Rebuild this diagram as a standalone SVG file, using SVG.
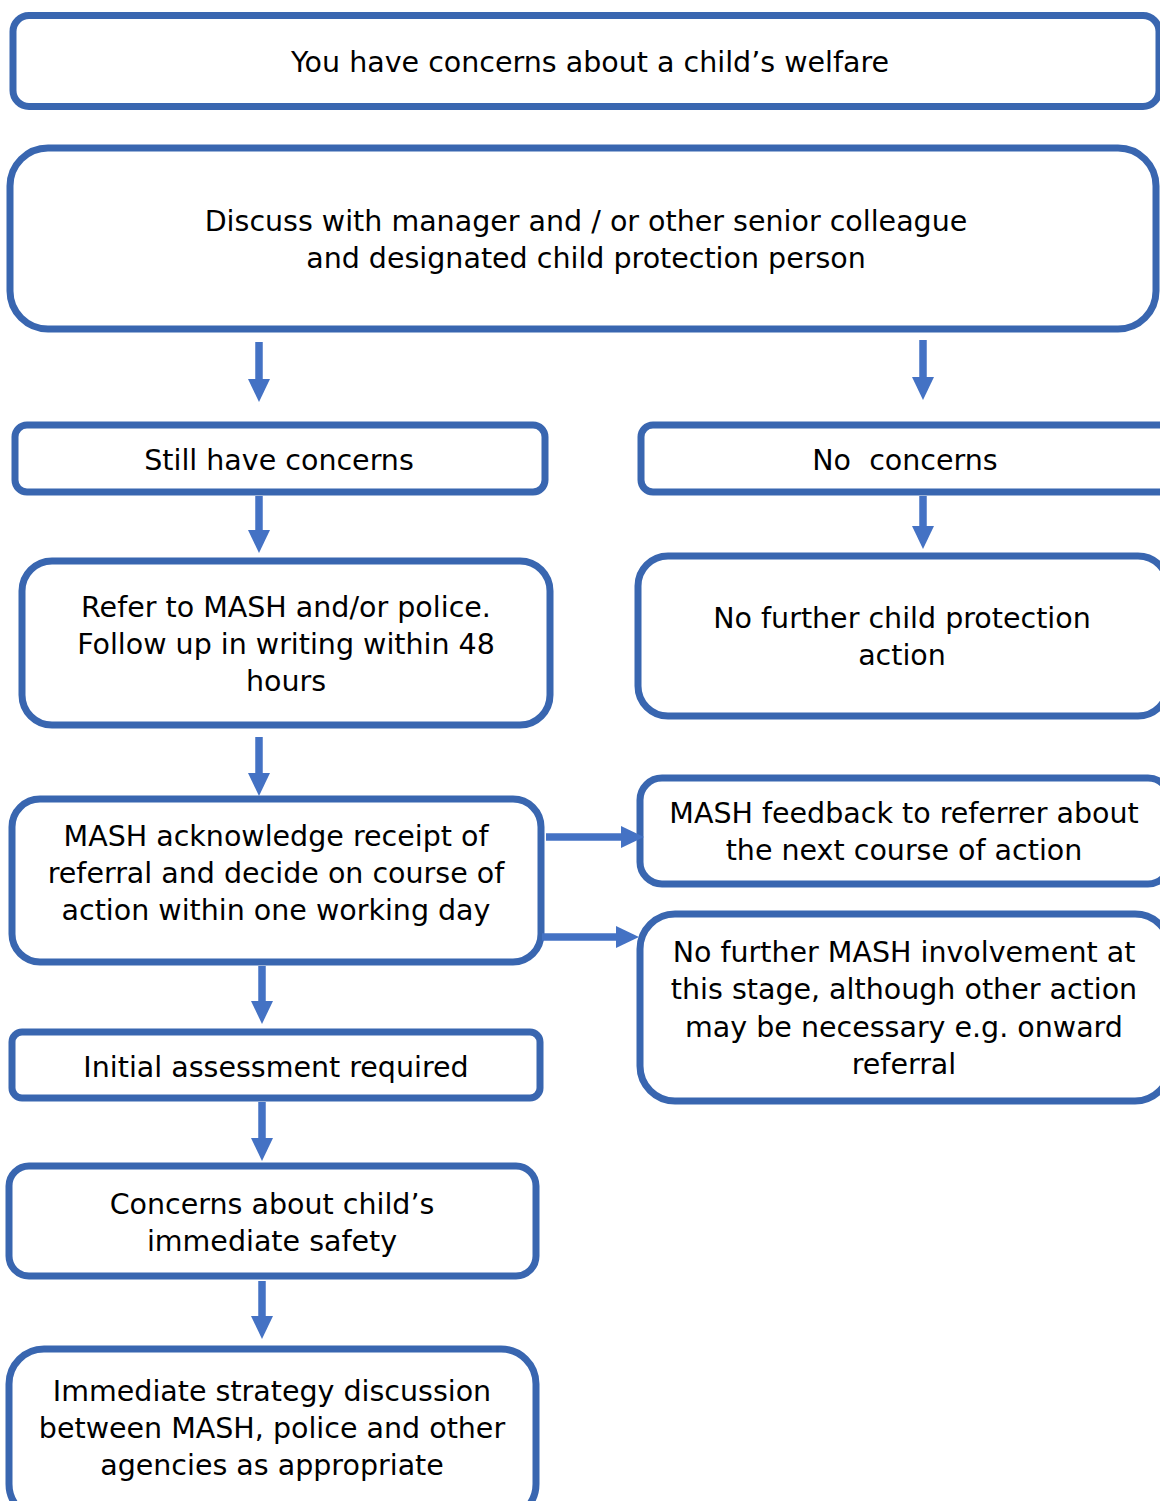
<svg xmlns="http://www.w3.org/2000/svg" width="1160" height="1501" viewBox="0 0 1160 1501">
<style>
.box{fill:#ffffff;stroke:#3966b0;stroke-width:7}
.t{font-family:"DejaVu Sans",sans-serif;font-size:28.5px;fill:#000;text-anchor:middle}
.arr{stroke:#4472c4;stroke-width:7.5;fill:none;marker-end:url(#ah)}
</style>
<defs>
<marker id="ah" viewBox="0 0 23 22" markerWidth="23" markerHeight="22" markerUnits="userSpaceOnUse" refX="11" refY="11" orient="auto">
<path d="M0,0 L23,11 L0,22 z" fill="#4472c4"/>
</marker>
</defs>
<rect width="1160" height="1501" fill="#ffffff"/>
<g id="n1"><rect class="box" x="13" y="15.5" width="1146" height="91" rx="16"/>
<text class="t" x="590" y="72">You have concerns about a child’s welfare</text></g>
<g id="n2"><rect class="box" x="10" y="148" width="1146" height="181" rx="38"/>
<text class="t" x="586" y="231">Discuss with manager and / or other senior colleague</text>
<text class="t" x="586" y="268">and designated child protection person</text></g>
<g id="n3"><rect class="box" x="15" y="425" width="530" height="67" rx="12"/>
<text class="t" x="279" y="470">Still have concerns</text></g>
<g id="n4"><rect class="box" x="641" y="425" width="540" height="67" rx="12"/>
<text class="t" x="905" y="470" xml:space="preserve">No  concerns</text></g>
<g id="n5"><rect class="box" x="22" y="561" width="528" height="164" rx="30"/>
<text class="t" x="286" y="617">Refer to MASH and/or police.</text>
<text class="t" x="286" y="654">Follow up in writing within 48</text>
<text class="t" x="286" y="691">hours</text></g>
<g id="n6"><rect class="box" x="638" y="556" width="530" height="160" rx="30"/>
<text class="t" x="902" y="628">No further child protection</text>
<text class="t" x="902" y="665">action</text></g>
<g id="n7"><rect class="box" x="12" y="799" width="529" height="163" rx="28"/>
<text class="t" x="276" y="846">MASH acknowledge receipt of</text>
<text class="t" x="276" y="883">referral and decide on course of</text>
<text class="t" x="276" y="920">action within one working day</text></g>
<g id="n8"><rect class="box" x="640" y="778" width="530" height="106" rx="22"/>
<text class="t" x="904" y="823">MASH feedback to referrer about</text>
<text class="t" x="904" y="860">the next course of action</text></g>
<g id="n9"><rect class="box" x="640" y="914" width="530" height="187" rx="35"/>
<text class="t" x="904" y="962">No further MASH involvement at</text>
<text class="t" x="904" y="999">this stage, although other action</text>
<text class="t" x="904" y="1037">may be necessary e.g. onward</text>
<text class="t" x="904" y="1074">referral</text></g>
<g id="n10"><rect class="box" x="12" y="1032" width="528" height="66" rx="10"/>
<text class="t" x="276" y="1077">Initial assessment required</text></g>
<g id="n11"><rect class="box" x="9" y="1166" width="527" height="110" rx="20"/>
<text class="t" x="272" y="1214">Concerns about child’s</text>
<text class="t" x="272" y="1251">immediate safety</text></g>
<g id="n12"><rect class="box" x="9" y="1349" width="527" height="170" rx="35"/>
<text class="t" x="272" y="1401">Immediate strategy discussion</text>
<text class="t" x="272" y="1438">between MASH, police and other</text>
<text class="t" x="272" y="1475">agencies as appropriate</text></g>
<g id="connectors">
<line class="arr" x1="259" y1="342" x2="259" y2="390"/>
<line class="arr" x1="923" y1="340" x2="923" y2="388"/>
<line class="arr" x1="259" y1="496" x2="259" y2="541"/>
<line class="arr" x1="923" y1="496" x2="923" y2="537"/>
<line class="arr" x1="259" y1="737" x2="259" y2="784"/>
<line class="arr" x1="546" y1="837" x2="632" y2="837"/>
<line class="arr" x1="542" y1="937" x2="627" y2="937"/>
<line class="arr" x1="262" y1="966" x2="262" y2="1012"/>
<line class="arr" x1="262" y1="1102" x2="262" y2="1149"/>
<line class="arr" x1="262" y1="1281" x2="262" y2="1327"/>
</g>
</svg>
